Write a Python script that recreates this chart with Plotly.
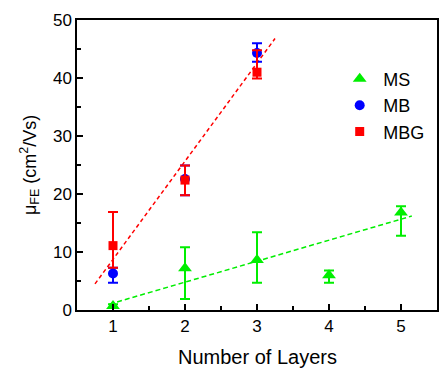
import plotly.graph_objects as go

layers = [1, 2, 3, 4, 5]
ms_val = [0.7, 7.2, 8.6, 6.0, 16.8]
ms_hi = [0.3, 3.6, 4.8, 0.8, 1.1]
ms_lo = [0.3, 5.3, 3.9, 1.3, 4.0]

mb_layers = [1, 2, 3]
mb_val = [6.3, 22.6, 44.3]
mb_hi = [1.0, 2.3, 1.7]
mb_lo = [1.6, 2.8, 1.5]

mbg_val = [11.1, 22.4, 41.0]
mbg_hi = [5.8, 2.5, 3.8]
mbg_lo = [3.8, 2.6, 1.1]

red_fit_x = [0.75, 3.25]
red_fit_y = [4.5, 46.8]
green_fit_x = [0.95, 5.15]
green_fit_y = [1.0, 16.2]

GREEN = "#00ee00"
BLUE = "#0000ff"
RED = "#ff0000"
FONT = "Liberation Sans, Arial"

fig = go.Figure()
fig.add_trace(go.Scatter(x=red_fit_x, y=red_fit_y, mode="lines", showlegend=False,
                         line=dict(color=RED, width=1.5, dash="4px,3px")))
fig.add_trace(go.Scatter(x=green_fit_x, y=green_fit_y, mode="lines", showlegend=False,
                         line=dict(color=GREEN, width=1.5, dash="5px,3px")))
fig.add_trace(go.Scatter(x=layers, y=ms_val, mode="markers", name="MS",
                         marker=dict(symbol="triangle-up", size=12, color=GREEN),
                         error_y=dict(type="data", array=ms_hi, arrayminus=ms_lo,
                                      color=GREEN, thickness=2, width=5)))
fig.add_trace(go.Scatter(x=mb_layers, y=mb_val, mode="markers", name="MB",
                         marker=dict(symbol="circle", size=10, color=BLUE),
                         error_y=dict(type="data", array=mb_hi, arrayminus=mb_lo,
                                      color=BLUE, thickness=2, width=5)))
fig.add_trace(go.Scatter(x=mb_layers, y=mbg_val, mode="markers", name="MBG",
                         marker=dict(symbol="square", size=9, color=RED),
                         error_y=dict(type="data", array=mbg_hi, arrayminus=mbg_lo,
                                      color=RED, thickness=2, width=5)))

axis_common = dict(showline=True, linecolor="black", linewidth=1.5, mirror=True,
                   ticks="inside", ticklen=6, tickwidth=1.5, tickcolor="black",
                   showgrid=False, zeroline=False, automargin=False,
                   tickfont=dict(family=FONT, size=17, color="black"))
fig.update_xaxes(range=[0.5, 5.5], tickvals=[1, 2, 3, 4, 5],
                 minor=dict(tickvals=[1.5, 2.5, 3.5, 4.5], ticks="inside", ticklen=4,
                            tickwidth=1.5, tickcolor="black"),
                 **axis_common)
fig.update_yaxes(range=[0, 50], tickvals=[0, 10, 20, 30, 40, 50],
                 minor=dict(tickvals=[5, 15, 25, 35, 45], ticks="inside", ticklen=4,
                            tickwidth=1.5, tickcolor="black"),
                 **axis_common)
fig.add_annotation(text="Number of Layers", xref="paper", yref="paper",
                   x=0.5, y=-0.162, xanchor="center", yanchor="middle", showarrow=False,
                   font=dict(family=FONT, size=20, color="black"))
fig.add_annotation(text="μ<sub>FE</sub> (cm<sup>2</sup>/Vs)", xref="paper", yref="paper",
                   x=-0.133, y=0.5, xanchor="center", yanchor="middle", showarrow=False,
                   textangle=-90, font=dict(family=FONT, size=18, color="black"))
fig.update_layout(width=439, height=368, margin=dict(l=77, r=2, t=20, b=58),
                  paper_bgcolor="white", plot_bgcolor="white",
                  legend=dict(x=0.72, y=0.86, xanchor="left", yanchor="top",
                              itemwidth=37,
                              bgcolor="rgba(0,0,0,0)", tracegroupgap=0,
                              font=dict(family=FONT, size=18, color="black")))
fig.write_html("out.html", config={"displayModeBar": False},
               post_script="document.body.style.margin='0';document.body.style.overflow='hidden';")
